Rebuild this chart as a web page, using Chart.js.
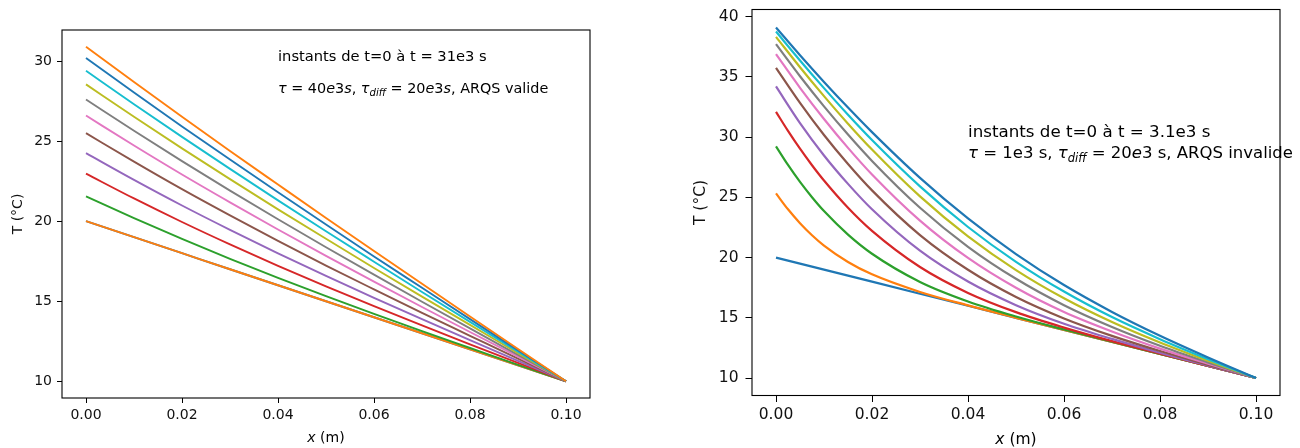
<!DOCTYPE html>
<html><head><meta charset="utf-8">
<script src="https://cdn.jsdelivr.net/npm/chart.js@4.4.1/dist/chart.umd.min.js"></script>
<style>
html,body{margin:0;padding:0;background:#fff;}
#wrap{position:relative;width:1300px;height:448px;overflow:hidden;}
canvas{position:absolute;top:0;}
</style>
</head><body>
<div id="wrap">
<canvas id="c1" width="650" height="448" style="left:0"></canvas>
<canvas id="c2" width="650" height="448" style="left:650px"></canvas>
</div>
<script>
// ---------- Left chart data (tau = 40e3 s) ----------
const xLeft = [0, 0.01, 0.02, 0.03, 0.04, 0.05, 0.06, 0.07, 0.08, 0.09, 0.1];
const left0  = [20, 19, 18, 17, 16, 15, 14, 13, 12, 11, 10];
const left1  = [20, 19, 18, 17, 16, 15, 14, 13, 12, 11, 10];
const left2  = [21.55, 20.19, 18.89, 17.65, 16.46, 15.32, 14.21, 13.13, 12.08, 11.03, 10];
const left3  = [22.97, 21.42, 19.95, 18.55, 17.21, 15.93, 14.69, 13.49, 12.31, 11.15, 10];
const left4  = [24.25, 22.58, 20.98, 19.46, 17.99, 16.58, 15.21, 13.88, 12.57, 11.28, 10];
const left5  = [25.5, 23.72, 22.00, 20.36, 18.77, 17.23, 15.74, 14.27, 12.84, 11.41, 10];
const left6  = [26.6, 24.73, 22.92, 21.18, 19.48, 17.83, 16.22, 14.64, 13.08, 11.54, 10];
const left7  = [27.6, 25.65, 23.75, 21.91, 20.12, 18.37, 16.66, 14.97, 13.30, 11.65, 10];
const left8  = [28.55, 26.52, 24.55, 22.63, 20.74, 18.90, 17.08, 15.29, 13.52, 11.76, 10];
const left9  = [29.4, 27.31, 25.27, 23.27, 21.30, 19.37, 17.47, 15.58, 13.71, 11.85, 10];
const left10 = [30.2, 28.04, 25.92, 23.85, 21.81, 19.79, 17.80, 15.84, 13.88, 11.94, 10];
const left11 = [30.9, 28.70, 26.53, 24.39, 22.29, 20.20, 18.14, 16.09, 14.05, 12.02, 10];
const xTicksLeft = [0, 0.02, 0.04, 0.06, 0.08, 0.10];
const yTicksLeft = [10, 15, 20, 25, 30];

// ---------- Right chart data (tau = 1e3 s) ----------
const xRight     = [0, 0.005, 0.01, 0.015, 0.02, 0.03, 0.04, 0.05, 0.06, 0.07, 0.08, 0.09, 0.1];
const xRightFine = [0, 0.0025, 0.005, 0.0075, 0.01, 0.015, 0.02, 0.03, 0.04, 0.05, 0.06, 0.07, 0.08, 0.09, 0.1];
const right0  = [20, 19.5, 19, 18.5, 18, 17, 16, 15, 14, 13, 12, 11, 10];
const right1  = [25.33, 24.01, 22.86, 21.86, 21.0, 19.64, 18.61, 17.15, 16.03, 15.0, 14.0, 13.0, 12.0, 11.0, 10];
const right2  = [29.24, 27.69, 26.28, 25.01, 23.86, 21.91, 20.32, 17.98, 16.36, 15.11, 14.03, 13.01, 12.0, 11.0, 10];
const right3  = [32.10, 30.52, 29.04, 27.67, 26.40, 24.14, 22.22, 19.22, 17.07, 15.47, 14.19, 13.06, 12.03, 11.01, 10];
const right4  = [34.21, 31.17, 28.48, 26.12, 24.01, 20.57, 18.01, 16.05, 14.51, 13.25, 12.10, 11.03, 10];
const right5  = [35.76, 32.85, 30.18, 27.77, 25.58, 21.87, 18.99, 16.73, 14.95, 13.50, 12.24, 11.09, 10];
const right6  = [36.89, 34.10, 31.51, 29.11, 26.90, 23.07, 19.97, 17.49, 15.48, 13.86, 12.44, 11.19, 10];
const right7  = [37.72, 35.06, 32.56, 30.22, 28.03, 24.14, 20.90, 18.24, 16.05, 14.24, 12.68, 11.30, 10];
const right8  = [38.33, 35.81, 33.41, 31.12, 28.97, 25.08, 21.76, 18.96, 16.62, 14.65, 12.95, 11.43, 10];
const right9  = [38.77, 36.37, 34.07, 31.86, 29.76, 25.91, 22.54, 19.65, 17.18, 15.06, 13.23, 11.57, 10];
const right10 = [39.10, 36.80, 34.59, 32.46, 30.42, 26.62, 23.25, 20.29, 17.72, 15.49, 13.51, 11.71, 10];
const xTicksRight = [0, 0.02, 0.04, 0.06, 0.08, 0.10];
const yTicksRight = [10, 15, 20, 25, 30, 35, 40];

const FONT = '"DejaVu Sans", "Liberation Sans", sans-serif';
const tab10 = ['#1f77b4','#ff7f0e','#2ca02c','#d62728','#9467bd','#8c564b','#e377c2','#7f7f7f','#bcbd22','#17becf'];

function drawRich(ctx, x, y, segs, size) {
  let cx = x;
  ctx.textBaseline = 'alphabetic';
  ctx.textAlign = 'left';
  for (const s of segs) {
    const fs = s.sub ? size * 0.7 : size;
    ctx.font = (s.it ? 'italic ' : '') + fs + 'px ' + FONT;
    const dy = s.sub ? size * 0.22 : 0;
    ctx.fillText(s.t, cx, y + dy);
    cx += ctx.measureText(s.t).width;
  }
  return cx - x;
}

const framePlugin = {
  id: 'frame',
  afterDatasetsDraw(chart) {
    const {ctx, chartArea: a} = chart;
    ctx.save();
    ctx.strokeStyle = '#000';
    ctx.lineWidth = 1.1;
    ctx.strokeRect(a.left, a.top, a.right - a.left, a.bottom - a.top);
    ctx.restore();
  }
};

function textPlugin(cfg) {
  return {
    id: 'texts',
    afterDraw(chart) {
      const {ctx, chartArea: a, scales} = chart;
      ctx.save();
      ctx.fillStyle = '#000';
      for (const ln of cfg.notes) {
        const px = scales.x.getPixelForValue(ln.x);
        const py = scales.y.getPixelForValue(ln.y);
        drawRich(ctx, px, py, ln.segs, ln.size);
      }
      // x axis title: italic x + " (m)"
      const segs = [{t: 'x', it: 1}, {t: ' (m)'}];
      let w = 0;
      for (const s of segs) { ctx.font = (s.it ? 'italic ' : '') + cfg.fs + 'px ' + FONT; w += ctx.measureText(s.t).width; }
      const cx = (a.left + a.right) / 2 - w / 2;
      drawRich(ctx, cx, cfg.xTitleBase, segs, cfg.fs);
      ctx.restore();
    }
  };
}

function build(id, cfg) {
  const n = cfg.series.length;
  const datasets = cfg.series.map((s, i) => ({
    data: s.ys.map((v, j) => ({x: s.xs[j], y: v})),
    borderColor: tab10[i % 10],
    backgroundColor: tab10[i % 10],
    borderWidth: cfg.lw,
    pointRadius: 0,
    fill: false,
    cubicInterpolationMode: 'monotone',
    order: n - i
  }));
  return new Chart(document.getElementById(id), {
    type: 'line',
    data: {datasets},
    options: {
      responsive: false,
      animation: false,
      devicePixelRatio: 1,
      layout: {padding: cfg.pad},
      plugins: {legend: {display: false}, tooltip: {enabled: false}, title: {display: false}},
      scales: {
        x: {
          type: 'linear', min: cfg.xmin, max: cfg.xmax,
          afterBuildTicks: s => { s.ticks = cfg.xticks.map(v => ({value: v})); },
          afterFit: s => { s.height = cfg.xh; s.paddingLeft = 0; s.paddingRight = 0; },
          ticks: {callback: v => Number(v).toFixed(2), font: {family: FONT, size: cfg.fs}, color: '#111',
                  padding: cfg.xpad, maxRotation: 0, autoSkip: false},
          grid: {drawOnChartArea: false, drawTicks: true, tickLength: cfg.tl, color: '#000', lineWidth: 1},
          border: {display: false}
        },
        y: {
          type: 'linear', min: cfg.ymin, max: cfg.ymax,
          afterBuildTicks: s => { s.ticks = cfg.yticks.map(v => ({value: v})); },
          afterFit: s => { s.width = cfg.yw; s.paddingTop = 0; s.paddingBottom = 0; },
          ticks: {callback: v => String(v), font: {family: FONT, size: cfg.fs}, color: '#111',
                  padding: cfg.ypad, autoSkip: false},
          grid: {drawOnChartArea: false, drawTicks: true, tickLength: cfg.tl, color: '#000', lineWidth: 1},
          border: {display: false},
          title: {display: true, text: 'T (°C)', font: {family: FONT, size: cfg.fs}, color: '#111',
                  padding: {top: cfg.ytitlePad, bottom: 0}}
        }
      }
    },
    plugins: [framePlugin, textPlugin(cfg)]
  });
}

const leftSeries = [left0, left1, left2, left3, left4, left5, left6, left7, left8, left9, left10, left11]
  .map(ys => ({xs: xLeft, ys}));
const rightSeries = [
  {xs: xRight, ys: right0}, {xs: xRightFine, ys: right1}, {xs: xRightFine, ys: right2}, {xs: xRightFine, ys: right3},
  {xs: xRight, ys: right4}, {xs: xRight, ys: right5}, {xs: xRight, ys: right6}, {xs: xRight, ys: right7},
  {xs: xRight, ys: right8}, {xs: xRight, ys: right9}, {xs: xRight, ys: right10}
];

build('c1', {
  series: leftSeries,
  lw: 1.9, fs: 14,
  pad: {left: 0, right: 60, top: 30, bottom: 0},
  xmin: -0.005, xmax: 0.105, ymin: 8.955, ymax: 31.945,
  xticks: xTicksLeft, yticks: yTicksLeft,
  xh: 50, yw: 62, tl: 5, xpad: 3.5, ypad: 5, ytitlePad: 10.2,
  xTitleBase: 442,
  notes: [
    {x: 0.04, y: 30, size: 14.7, segs: [{t: 'instants de t=0 à t = 31e3 s'}]},
    {x: 0.04, y: 28, size: 14.4, segs: [{t: 'τ', it: 1}, {t: ' = 40'}, {t: 'e', it: 1}, {t: '3'}, {t: 's', it: 1}, {t: ', '},
                            {t: 'τ', it: 1}, {t: 'diff', it: 1, sub: 1}, {t: ' = 20'}, {t: 'e', it: 1}, {t: '3'},
                            {t: 's', it: 1}, {t: ', ARQS valide'}]}
  ]
});

build('c2', {
  series: rightSeries,
  lw: 2.2, fs: 15.5,
  pad: {left: 0, right: 20, top: 9.5, bottom: 0},
  xmin: -0.005, xmax: 0.105, ymin: 8.55, ymax: 40.6,
  xticks: xTicksRight, yticks: yTicksRight,
  xh: 52.5, yw: 102, tl: 6.5, xpad: 3.5, ypad: 7, ytitlePad: 41.5,
  xTitleBase: 444,
  notes: [
    {x: 0.04, y: 30, size: 16.7, segs: [{t: 'instants de t=0 à t = 3.1e3 s'}]},
    {x: 0.04, y: 28.25, size: 16.5, segs: [{t: 'τ', it: 1}, {t: ' = 1e3 s, '}, {t: 'τ', it: 1}, {t: 'diff', it: 1, sub: 1},
                               {t: ' = 20'}, {t: 'e', it: 1}, {t: '3 s, ARQS invalide'}]}
  ]
});
</script>
</body></html>
